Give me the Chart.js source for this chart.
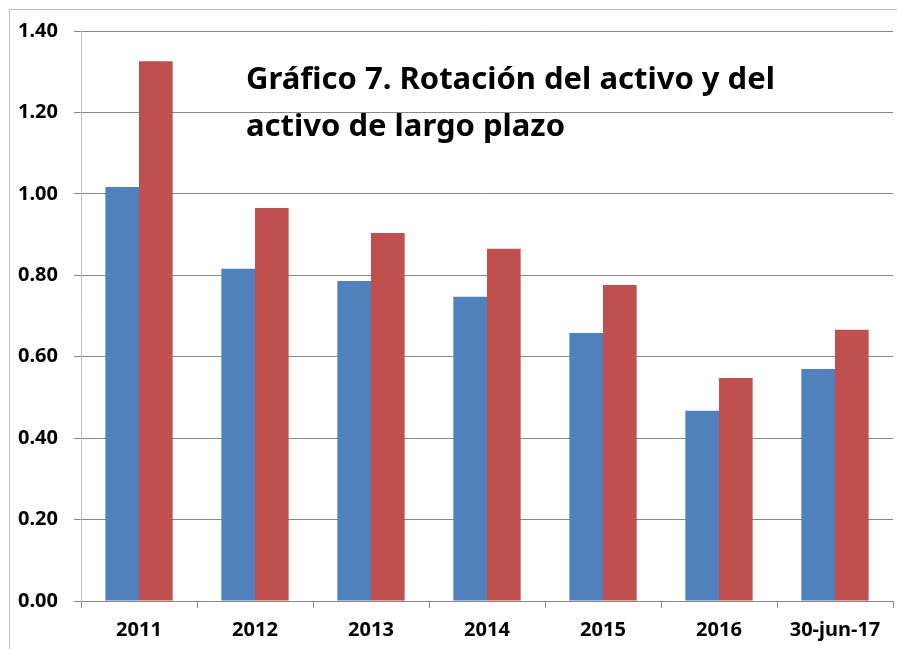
<!DOCTYPE html>
<html>
<head>
<meta charset="utf-8">
<script src="https://cdn.jsdelivr.net/npm/chart.js@4.4.0/dist/chart.umd.min.js"></script>
<style>
  html, body { margin: 0; padding: 0; background: #fff; }
  #wrap { width: 897px; height: 649px; position: relative; }
</style>
</head>
<body>
<div id="wrap"><canvas id="grafico7"></canvas></div>
<script>
// datos del gráfico
var categorias = ['2011', '2012', '2013', '2014', '2015', '2016', '30-jun-17'];
var rotacionActivo = [1.017, 0.816, 0.786, 0.747, 0.658, 0.467, 0.570];
var rotacionLargoPlazo = [1.326, 0.965, 0.904, 0.865, 0.776, 0.548, 0.666];
var tituloLineas = ['Gráfico 7. Rotación del activo y del', 'activo de largo plazo'];

var fuente = "'Noto Sans', 'DejaVu Sans', sans-serif";

// marco exterior y título dentro del área
var marcoYTitulo = {
  id: 'marcoYTitulo',
  beforeDraw: function(chart) {
    var c = chart.ctx;
    c.save();
    c.strokeStyle = '#bfbfbf';
    c.lineWidth = 1;
    c.strokeRect(9.5, 9.5, 900, 700);
    c.restore();
  },
  afterDraw: function(chart) {
    var c = chart.ctx;
    c.save();
    c.fillStyle = '#000';
    c.font = 'bold 31px ' + fuente;
    c.textBaseline = 'middle';
    c.fillText(tituloLineas[0], 246, 80);
    c.fillText(tituloLineas[1], 246, 127);
    c.restore();
  }
};

var ctx = document.getElementById('grafico7').getContext('2d');
var grafico = new Chart(ctx, {
  type: 'bar',
  data: {
    labels: categorias,
    datasets: [{
      label: 'Rotación del activo',
      data: rotacionActivo,
      backgroundColor: '#4f81bd',
      barPercentage: 1,
      categoryPercentage: 0.58
    }, {
      label: 'Rotación del activo de largo plazo',
      data: rotacionLargoPlazo,
      backgroundColor: '#c0504d',
      barPercentage: 1,
      categoryPercentage: 0.58
    }]
  },
  options: {
    responsive: true,
    maintainAspectRatio: false,
    animation: false,
    layout: { padding: { top: 31, right: 4, left: 0, bottom: 0 } },
    plugins: {
      legend: { display: false },
      tooltip: { enabled: false }
    },
    scales: {
      x: {
        grid: { drawOnChartArea: false, color: '#878787', tickLength: 7 },
        border: { color: '#878787' },
        ticks: { color: '#000', padding: 10, font: { family: fuente, size: 20, weight: 'bold' } },
        afterFit: function(s) { s.height = 48; }
      },
      y: {
        min: 0,
        max: 1.4,
        grid: { color: '#878787', tickLength: 7 },
        border: { color: '#bfbfbf' },
        ticks: {
          stepSize: 0.2,
          color: '#000',
          padding: 16,
          font: { family: fuente, size: 20, weight: 'bold' },
          callback: function(v) { return v.toFixed(2); }
        },
        afterFit: function(s) { s.width = 81; }
      }
    }
  },
  plugins: [marcoYTitulo]
});
</script>
</body>
</html>
